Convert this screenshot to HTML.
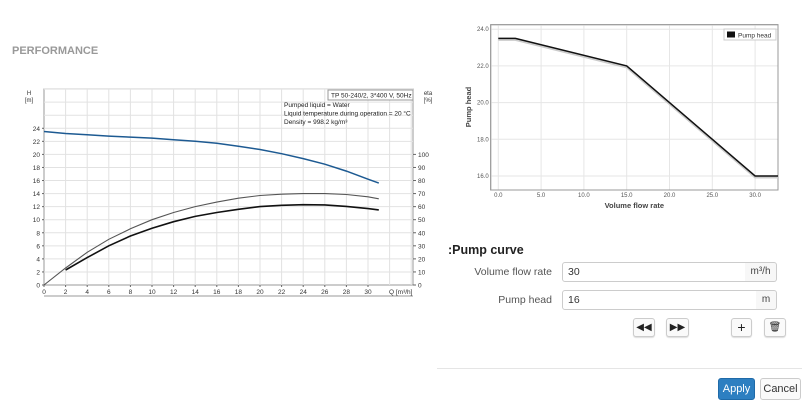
<!DOCTYPE html>
<html><head><meta charset="utf-8"><style>
body{margin:0;width:802px;height:412px;background:#fff;font-family:"Liberation Sans",sans-serif;position:relative;overflow:hidden}
.abs{position:absolute}
.lbl{font-size:10.5px;color:#555;text-align:right;width:110px}
.inp{border:1px solid #ccc;border-radius:3px 0 0 3px;height:18px;font-size:10.5px;color:#333;line-height:18px;padding-left:5px;box-sizing:content-box}
.add{border:1px solid #ccc;border-left:none;background:#f7f7f7;border-radius:0 3px 3px 0;height:18px;font-size:10px;color:#444;line-height:18px;text-align:center}
.btn{border:1px solid #ccc;border-radius:3px;background:#fafafa;height:17px;font-size:10px;line-height:17px;text-align:center;color:#222;box-shadow:0 1px 1px #ddd}
</style></head><body>
<div class="abs" style="left:12px;top:45px;font-size:11px;font-weight:bold;color:#999">PERFORMANCE</div>
<svg class="abs" style="left:0;top:0" width="440" height="412" id="perf"></svg>
<svg class="abs" style="left:440px;top:0" width="362" height="220" id="pc"></svg>

<div class="abs" style="left:448px;top:243px;font-size:12.5px;font-weight:bold;color:#222">:Pump curve</div>
<div class="abs lbl" style="left:442px;top:266px">Volume flow rate</div>
<div class="abs inp" style="left:562px;top:262px;width:178px">30</div>
<div class="abs add" style="left:745px;top:262px;width:31px">m³/h</div>
<div class="abs lbl" style="left:442px;top:294px">Pump head</div>
<div class="abs inp" style="left:562px;top:290px;width:189px">16</div>
<div class="abs add" style="left:756px;top:290px;width:20px">m</div>
<div class="abs btn" style="left:633px;top:318px;width:20px">◀◀</div>
<div class="abs btn" style="left:666px;top:318px;width:21px">▶▶</div>
<div class="abs btn" style="left:731px;top:318px;width:19px;font-size:14px">+</div>
<div class="abs btn" style="left:764px;top:318px;width:20px">🗑</div>
<div class="abs" style="left:437px;top:368px;width:365px;height:1px;background:#e5e5e5"></div>
<div class="abs" style="left:718px;top:378px;width:35px;height:20px;background:#2d7fc1;border:1px solid #1f6aa8;border-radius:3px;color:#fff;font-size:11px;line-height:20px;text-align:center">Apply</div>
<div class="abs" style="left:760px;top:378px;width:39px;height:20px;background:#fafafa;border:1px solid #ccc;border-radius:3px;color:#333;font-size:11px;line-height:20px;text-align:center">Cancel</div>

<script>
// performance chart data
const qTicks=[0,2,4,6,8,10,12,14,16,18,20,22,24,26,28,30];
const hTicks=[0,2,4,6,8,10,12,14,16,18,20,22,24];
const etaTicks=[0,10,20,30,40,50,60,70,80,90,100];
const headQ=[0,2,4,6,8,10,12,14,16,18,20,22,24,26,28,30,31];
const headH=[23.5,23.2,23.0,22.8,22.65,22.5,22.25,22.0,21.7,21.25,20.75,20.1,19.35,18.5,17.45,16.2,15.6];
const etaQ=[0,2,4,6,8,10,12,14,16,18,20,22,24,26,28,30,31];
const etaA=[0,13,25,35,43,50,55.5,60,63.5,66.5,68.5,69.5,70,70,69.3,67.5,66];
const eta2Q=[2,4,6,8,10,12,14,16,18,20,22,24,26,28,30,31];
const etaB=[11.5,21,30,37.5,43.5,48.5,52.5,55.5,58,60,61,61.5,61.3,60.2,58.5,57.5];
// pump curve data
const pcX=[0,2,15,30,33];
const pcY=[23.5,23.5,22,16,16];
const pcXT=[0,5,10,15,20,25,30];
const pcYT=[16,18,20,22,24];

const NS='http://www.w3.org/2000/svg';
function mk(p,t,a,txt){const e=document.createElementNS(NS,t);for(const k in a)e.setAttribute(k,a[k]);if(txt!==undefined)e.textContent=txt;p.appendChild(e);return e;}

const s=document.getElementById('perf');
const L=44,R=413,T=89,B=285;
const xq=q=>L+q*10.8, yh=h=>B-h*6.53, ye=e=>B-e*1.306;
let e=mk(s,'rect',{x:L,y:T,width:R-L,height:B-T,fill:'#fff',stroke:'#999'});

for(let q=1;q<=34;q+=1){const x=xq(q);if(x<R&&q%2==0)mk(s,'line',{x1:x,y1:T,x2:x,y2:B,stroke:'#e2e2e2'});}
for(let h=2;h<=30;h+=2){const y=yh(h);if(y>T)mk(s,'line',{x1:L,y1:y,x2:R,y2:y,stroke:'#e2e2e2'});}
qTicks.forEach(q=>{const t=mk(s,'text',{x:xq(q),y:B+9,'font-size':6.5,'text-anchor':'middle',fill:'#333'},q);mk(s,'line',{x1:xq(q),y1:B,x2:xq(q),y2:B+2,stroke:'#666'});});
hTicks.forEach(h=>{const t=mk(s,'text',{x:L-4,y:yh(h)+2.5,'font-size':6.5,'text-anchor':'end',fill:'#333'},h);mk(s,'line',{x1:L-2,y1:yh(h),x2:L,y2:yh(h),stroke:'#666'});});
etaTicks.forEach(v=>{const t=mk(s,'text',{x:R+5,y:ye(v)+2.5,'font-size':6.5,fill:'#333'},v);mk(s,'line',{x1:R,y1:ye(v),x2:R+3,y2:ye(v),stroke:'#666'});});
mk(s,'text',{x:389,y:B+9,'font-size':6.5,fill:'#333'},'Q [m³/h]');
mk(s,'text',{x:29,y:95,'font-size':6,'text-anchor':'middle',fill:'#333'},'H');
mk(s,'text',{x:29,y:102,'font-size':6,'text-anchor':'middle',fill:'#333'},'[m]');
mk(s,'text',{x:428,y:95,'font-size':6,'text-anchor':'middle',fill:'#333'},'eta');
mk(s,'text',{x:428,y:102,'font-size':6,'text-anchor':'middle',fill:'#333'},'[%]');
mk(s,'rect',{x:328,y:90,width:85,height:10,fill:'#fff',stroke:'#999'});
mk(s,'text',{x:331,y:97.5,'font-size':6.5,fill:'#222'},'TP 50-240/2, 3*400 V, 50Hz');
mk(s,'text',{x:284,y:107,'font-size':6.5,fill:'#222'},'Pumped liquid = Water');
mk(s,'text',{x:284,y:115.5,'font-size':6.5,fill:'#222'},'Liquid temperature during operation = 20 °C');
mk(s,'text',{x:284,y:124,'font-size':6.5,fill:'#222'},'Density = 998.2 kg/m³');
mk(s,'line',{x1:L,y1:296,x2:R,y2:296,stroke:'#999'});
function path(xs,ys,fx,fy){return xs.map((v,i)=>(i?'L':'M')+fx(v).toFixed(1)+','+fy(ys[i]).toFixed(1)).join('');}
e=mk(s,'path',{d:path(headQ,headH,xq,yh),fill:'none',stroke:'#1d5a92','stroke-width':1.5});

e=mk(s,'path',{d:path(etaQ,etaA,xq,ye),fill:'none',stroke:'#555','stroke-width':1.1});

e=mk(s,'path',{d:path(eta2Q,etaB,xq,ye),fill:'none',stroke:'#111','stroke-width':1.6});


// pump curve chart
const c=document.getElementById('pc');
const PL=50.7,PR=338,PT=24.7,PB=190;
const px=v=>58.3+v*8.56, py=v=>176-(v-16)*18.35;
mk(c,'rect',{x:PL,y:PT,width:PR-PL,height:PB-PT,fill:'#fff',stroke:'#999'});
pcXT.forEach(v=>{mk(c,'line',{x1:px(v),y1:PT,x2:px(v),y2:PB,stroke:'#e6e6e6'});const t=mk(c,'text',{x:px(v),y:PB+7,'font-size':6,'text-anchor':'middle',fill:'#555'},v.toFixed(1));});
pcYT.forEach(v=>{mk(c,'line',{x1:PL,y1:py(v),x2:PR,y2:py(v),stroke:'#e6e6e6'});const t=mk(c,'text',{x:PL-2,y:py(v)+2,'font-size':6,'text-anchor':'end',fill:'#555'},v.toFixed(1));});
mk(c,'rect',{x:PL,y:PT,width:PR-PL,height:PB-PT,fill:'none',stroke:'#999'});
mk(c,'clipPath',{id:'cp'});mk(c.lastChild,'rect',{x:PL,y:PT,width:PR-PL,height:PB-PT});
mk(c,'path',{d:path(pcX,pcY,px,py),fill:'none',stroke:'#ccc','stroke-width':2,transform:'translate(0,1.5)','clip-path':'url(#cp)'});
e=mk(c,'path',{d:path(pcX,pcY,px,py),fill:'none',stroke:'#111','stroke-width':1.5,'clip-path':'url(#cp)'});

mk(c,'text',{x:PL+(PR-PL)/2,y:208,'font-size':7.5,'text-anchor':'middle',fill:'#444','font-weight':'bold'},'Volume flow rate');
mk(c,'text',{x:31,y:107,'font-size':7.5,'text-anchor':'middle',fill:'#444','font-weight':'bold',transform:'rotate(-90 31 107)'},'Pump head');
e=mk(c,'rect',{x:284,y:29,width:52,height:11,fill:'#fff',stroke:'#ccc'});

mk(c,'rect',{x:287,y:31.5,width:8,height:6,fill:'#111'});
mk(c,'text',{x:298,y:37.5,'font-size':6.5,fill:'#333'},'Pump head');
</script>
</body></html>
